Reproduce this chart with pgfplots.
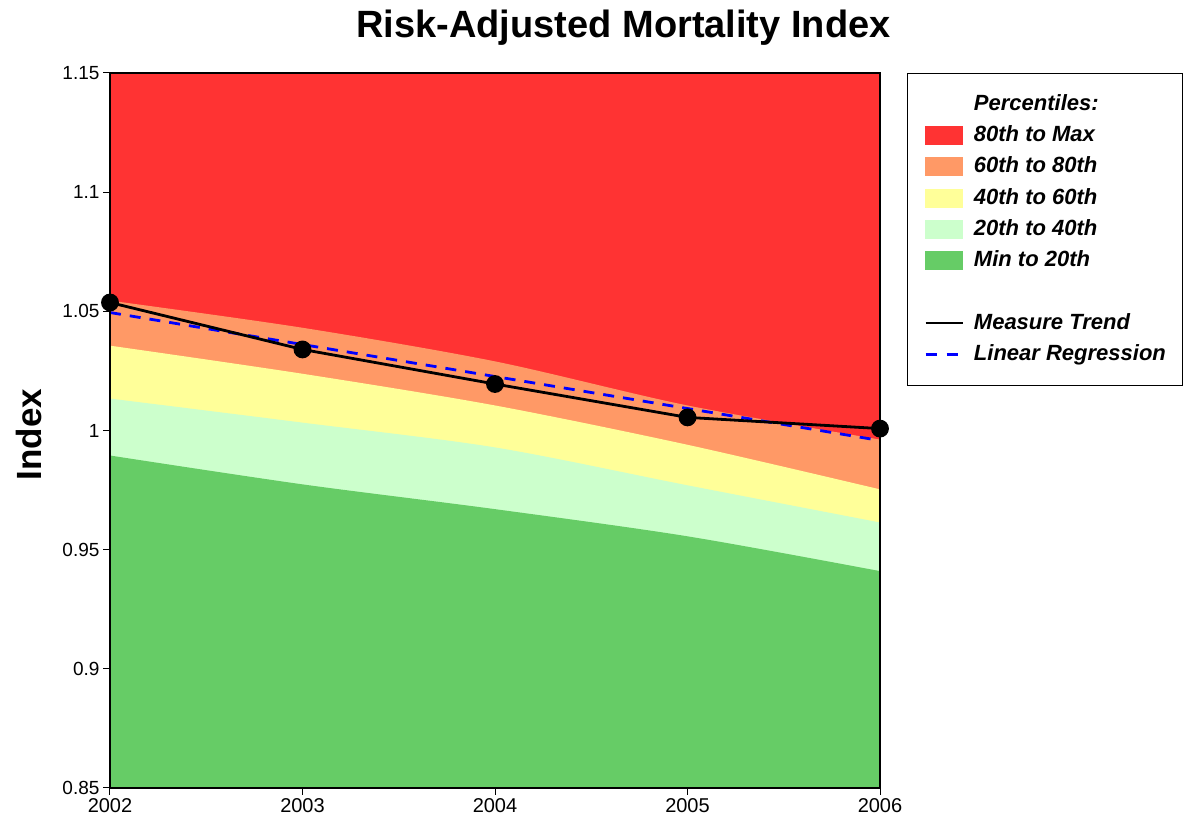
\documentclass[border=0pt]{standalone}
\usepackage{pgfplots}
\usepackage{pgfplotstable}
\pgfplotsset{compat=1.18}
\usepackage{fontspec}
\setmainfont{Liberation Sans}

\definecolor{bandRed}{RGB}{255,51,51}
\definecolor{bandOrange}{RGB}{255,153,102}
\definecolor{bandYellow}{RGB}{255,255,153}
\definecolor{bandLight}{RGB}{204,255,204}
\definecolor{bandGreen}{RGB}{102,204,102}
\definecolor{regBlue}{RGB}{0,0,255}

% percentile boundaries (upper edge of each band) and the measured index
\pgfplotstableread{
year  pmax  p80     p60     p40     p20     trend
2002  1.15  1.0545  1.0356  1.0134  0.9895  1.0537
2003  1.15  1.0431  1.0238  1.0033  0.9774  1.0340
2004  1.15  1.0290  1.0105  0.9929  0.9670  1.0195
2005  1.15  1.0105  0.9940  0.9770  0.9556  1.0055
2006  1.15  0.9962  0.9753  0.9614  0.9410  1.0008
}\bands

% least-squares fit of the measured index
\pgfplotstableread{
year  fit
2002  1.0495
2006  0.9958
}\regression

\begin{document}
\begin{tikzpicture}
\useasboundingbox (0pt,0pt) rectangle (1183pt,824pt);
\begin{axis}[
  at={(110pt,36pt)}, anchor=south west,
  scale only axis, width=770pt, height=715pt,
  xmin=2002, xmax=2006, ymin=0.85, ymax=1.15,
  xtick={2002,2003,2004,2005,2006},
  ytick={0.85,0.9,0.95,1,1.05,1.1,1.15},
  tick pos=left, tick align=outside, major tick length=7pt,
  every tick/.style={black, line width=1pt},
  axis line style={black, line width=1.2pt},
  xticklabel style={font=\fontsize{20}{24}\selectfont},
  yticklabel style={font=\fontsize{19}{23}\selectfont, /pgf/number format/fixed},
  /pgf/number format/assume math mode=true,
  /pgf/number format/1000 sep={},
  clip=false,
  axis on top,
  ylabel={Index},
  ylabel style={at={(axis description cs:-0.105,0.494)}, anchor=center,
    font=\bfseries\fontsize{35}{40}\selectfont},
  legend cell align=left,
  legend style={at={(axis description cs:1.035,1)}, anchor=north west,
    draw=black, line width=1pt, fill=white,
    font=\bfseries\itshape\fontsize{22}{26}\selectfont,
    inner xsep=17pt, inner ysep=20pt, row sep=9.25pt, column sep=10pt,
    nodes={inner sep=0pt, text height=17pt, text depth=5pt}},
]
% percentile bands, painted from the top band downward
\addplot[forget plot, fill=bandRed, draw=none] table[x=year, y=pmax] {\bands} \closedcycle;
\addplot[forget plot, fill=bandOrange, draw=none, smooth] table[x=year, y=p80] {\bands} \closedcycle;
\addplot[forget plot, fill=bandYellow, draw=none, smooth] table[x=year, y=p60] {\bands} \closedcycle;
\addplot[forget plot, fill=bandLight, draw=none, smooth] table[x=year, y=p40] {\bands} \closedcycle;
\addplot[forget plot, fill=bandGreen, draw=none, smooth] table[x=year, y=p20] {\bands} \closedcycle;

% regression and measured trend
\addplot[forget plot, regBlue, line width=2.8pt, dash pattern=on 11pt off 9pt]
  table[x=year, y=fit] {\regression};
\addplot[forget plot, black, line width=2.8pt,
  mark=*, mark size=7.5pt, mark options={fill=black}]
  table[x=year, y=trend] {\bands};

% legend
\addlegendimage{empty legend}
\addlegendentry{Percentiles:}
\addlegendimage{legend image code/.code={\fill[bandRed] (0pt,-9pt) rectangle (37pt,9pt);}}
\addlegendentry{80th to Max}
\addlegendimage{legend image code/.code={\fill[bandOrange] (0pt,-9pt) rectangle (37pt,9pt);}}
\addlegendentry{60th to 80th}
\addlegendimage{legend image code/.code={\fill[bandYellow] (0pt,-9pt) rectangle (37pt,9pt);}}
\addlegendentry{40th to 60th}
\addlegendimage{legend image code/.code={\fill[bandLight] (0pt,-9pt) rectangle (37pt,9pt);}}
\addlegendentry{20th to 40th}
\addlegendimage{legend image code/.code={\fill[bandGreen] (0pt,-9pt) rectangle (37pt,9pt);}}
\addlegendentry{Min to 20th}
\addlegendimage{empty legend}
\addlegendentry{\mbox{}}
\addlegendimage{legend image code/.code={\draw[black, line width=2.5pt] (0pt,0pt) -- (37pt,0pt);}}
\addlegendentry{Measure Trend}
\addlegendimage{legend image code/.code={\draw[regBlue, line width=2.5pt, dash pattern=on 11pt off 10pt] (0pt,0pt) -- (37pt,0pt);}}
\addlegendentry{Linear Regression}
\end{axis}
\node[font=\bfseries\fontsize{38}{42}\selectfont, anchor=base] at (623.5pt,786pt)
  {Risk-Adjusted Mortality Index};
\end{tikzpicture}
\end{document}
